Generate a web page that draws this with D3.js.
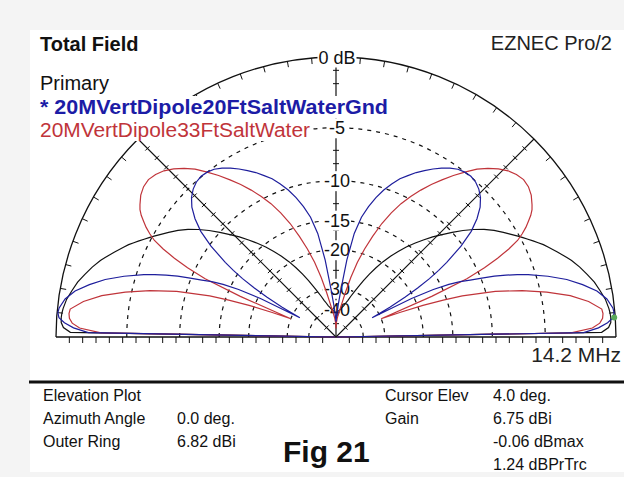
<!DOCTYPE html>
<html lang="en">
<head>
<meta charset="UTF-8">
<title>Total Field - Elevation Plot</title>
<script src="https://d3js.org/d3.v7.min.js"></script>
<style>
    body { margin: 0; padding: 0; background: #ffffff; }
    svg { display: block; font-family: 'Liberation Sans', Arial, sans-serif; }
    .legend { font-size: 20px; }
    .ring-label { font-size: 18px; text-anchor: middle; }
    .info { font-size: 16px; fill: #111; }
</style>
</head>
<body>
<svg width="624" height="477"></svg>
<script>
// elevation angles (deg) of the pattern samples, 0 = right horizon, 180 = left horizon
const elevations = [0,1,2,3,4,5,6,8,10,12,14,16,18,19,20,21,22,23,24,25,26,27,28,29,30,31,32,33,34,36,38,40,42,44,46,48,50,52,54,56,58,60,62,64,66,68,70,72,74,76,78,80,82,84,86,88,90,
    92,94,96,98,100,102,104,106,108,110,112,114,116,118,120,122,124,126,128,130,132,134,136,138,140,142,144,146,147,148,149,150,151,152,153,154,155,156,157,158,159,160,161,162,164,166,168,170,172,174,175,176,177,178,179,180];

// dB relative to outer ring (6.82 dBi)
const primaryDb = [-99,-0.9,-0.45,-0.3,-0.28,-0.3,-0.35,-0.5,-0.75,-1.0,-1.35,-1.7,-2.1,-2.35,-2.6,-2.85,-3.1,-3.35,-3.6,-3.9,-4.2,-4.5,-4.8,-5.1,-5.4,-5.7,-6.0,-6.3,-6.6,-7.3,-8.1,-9.0,-10.0,-11.0,-12.0,-13.1,-14.2,-15.4,-16.7,-18.1,-19.7,-21.5,-23.5,-25.7,-28,-30,-32,-34,-35.5,-37,-38,-39,-40,-40.5,-41,-41.5,-42,
    -41.5,-41,-40.5,-40,-39,-38,-37,-35.5,-34,-32,-30,-28,-25.7,-23.5,-21.5,-19.7,-18.1,-16.7,-15.4,-14.2,-13.1,-12.0,-11.0,-10.0,-9.0,-8.1,-7.3,-6.6,-6.3,-6.0,-5.7,-5.4,-5.1,-4.8,-4.5,-4.2,-3.9,-3.6,-3.35,-3.1,-2.85,-2.6,-2.35,-2.1,-1.7,-1.35,-1.0,-0.75,-0.5,-0.35,-0.3,-0.28,-0.3,-0.45,-0.9,-99];

const salt20Db = [-99,-2.1,-1.1,-0.5,-0.14,-0.05,-0.1,-0.4,-0.95,-1.8,-2.8,-4.1,-5.6,-6.5,-7.5,-8.6,-9.9,-11.2,-12.4,-13.9,-16.3,-20.5,-33,-26,-21.5,-18.5,-16,-14.2,-12.7,-10.2,-8.4,-7.2,-6.3,-5.7,-5.3,-5.05,-4.95,-5.0,-5.15,-5.45,-5.85,-6.3,-6.8,-7.3,-7.9,-8.5,-9.3,-10.2,-11.3,-12.6,-14.2,-16.8,-22,-30,-37,-43,-50,
    -43,-37,-30,-22,-16.8,-14.2,-12.6,-11.3,-10.2,-9.3,-8.5,-7.9,-7.3,-6.8,-6.3,-5.85,-5.45,-5.15,-5.0,-4.95,-5.05,-5.3,-5.7,-6.3,-7.2,-8.4,-10.2,-12.7,-14.2,-16,-18.5,-21.5,-26,-33,-20.5,-16.3,-13.9,-12.4,-11.2,-9.9,-8.6,-7.5,-6.5,-5.6,-4.1,-2.8,-1.8,-0.95,-0.4,-0.1,-0.05,-0.14,-0.5,-1.1,-2.1,-99];

const salt33Db = [-99,-3.0,-1.5,-1.0,-0.8,-0.75,-0.8,-1.6,-2.8,-4.5,-6.5,-9.0,-12.8,-15.5,-19,-24,-30,-17,-11.5,-9.2,-7.6,-6.3,-5.3,-4.7,-4.2,-3.8,-3.4,-3.1,-2.9,-2.55,-2.35,-2.3,-2.45,-2.7,-3.1,-3.6,-4.2,-5.0,-5.8,-6.7,-7.6,-8.6,-9.7,-10.9,-12.4,-14.2,-16.5,-19,-22,-26,-31,-36,-40,-43,-46,-50,-60,
    -50,-46,-43,-40,-36,-31,-26,-22,-19,-16.5,-14.2,-12.4,-10.9,-9.7,-8.6,-7.6,-6.7,-5.8,-5.0,-4.2,-3.6,-3.1,-2.7,-2.45,-2.3,-2.35,-2.55,-2.9,-3.1,-3.4,-3.8,-4.2,-4.7,-5.3,-6.3,-7.6,-9.2,-11.5,-17,-30,-24,-19,-15.5,-12.8,-9.0,-6.5,-4.5,-2.8,-1.6,-0.8,-0.75,-0.8,-1.0,-1.5,-3.0,-99];

const traceNames = ["Primary", "* 20MVertDipole20FtSaltWaterGnd", "20MVertDipole33FtSaltWater"];
const ringDb = [0, -5, -10, -15, -20, -30, -40];
const ringLabels = ["0 dB", "-5", "-10", "-15", "-20", "-30", "-40"];
const cursorElev = 4.0;
const cursorDb = -0.07;

const infoLeft = [["Elevation Plot", ""], ["Azimuth Angle", "0.0 deg."], ["Outer Ring", "6.82 dBi"]];
const infoRight = [["Cursor Elev", "4.0 deg."], ["Gain", "6.75 dBi"], ["", "-0.06 dBmax"], ["", "1.24 dBPrTrc"]];

const svg = d3.select("svg");
const cx = 336, cy = 337, R = 280;

// ARRL log scale: radius goes as (power ratio)^0.253, i.e. 0.89 per 2 dB
const rScale = d3.scalePow().exponent(0.2531).domain([0, 1]).range([0, R]).clamp(true);
const dbToR = db => rScale(Math.pow(10, db / 10));
const angle = d3.scaleLinear().domain([0, 180]).range([Math.PI / 2, -Math.PI / 2]);
const px = (e, r) => r * Math.sin(angle(e));
const py = (e, r) => -r * Math.cos(angle(e));

svg.append("rect").attr("width", 624).attr("height", 477).attr("fill", "#f4f4f4");
svg.append("rect").attr("x", 30).attr("y", 30).attr("width", 594).attr("height", 442).attr("fill", "#ffffff");

const g = svg.append("g").attr("transform", `translate(${cx},${cy})`);
const tickPos = d3.range(1, 21).map(k => k * R / 21);

// vertical dB axis
g.append("line").attr("x1", 0).attr("y1", 0).attr("x2", 0).attr("y2", -R)
    .attr("stroke", "#111").attr("stroke-width", 1.2);
g.selectAll(".vtick").data(tickPos).enter().append("line")
    .attr("x1", -3).attr("x2", 3)
    .attr("y1", d => -d).attr("y2", d => -d)
    .attr("stroke", "#111");

function boxedText(parent, x, y, str, cls, fill, weight, anchor) {
    const grp = parent.append("g");
    const bg = grp.append("rect").attr("fill", "#ffffff");
    const t = grp.append("text")
        .attr("class", cls)
        .attr("x", x).attr("y", y)
        .attr("fill", fill)
        .attr("font-weight", weight || "normal")
        .attr("text-anchor", anchor || "start")
        .text(str);
    return { t: t, bg: bg };
}
function fitBox(b) {
    const bb = b.t.node().getBBox();
    b.bg.attr("x", bb.x - 1).attr("y", bb.y).attr("width", bb.width + 2).attr("height", bb.height);
}

// title and legend
let b = boxedText(svg, 40, 51, "Total Field", "legend", "#111", "bold");
b.t.attr("font-size", 22); fitBox(b);
fitBox(boxedText(svg, 612, 50, "EZNEC Pro/2", "legend", "#222", "normal", "end"));
fitBox(boxedText(svg, 40, 90, traceNames[0], "legend", "#111"));
b = boxedText(svg, 40, 114, traceNames[1], "legend", "#1c1ca6", "bold");
b.t.attr("font-size", 21).attr("textLength", 348).attr("lengthAdjust", "spacingAndGlyphs"); fitBox(b);
b = boxedText(svg, 40, 137, traceNames[2], "legend", "#c0343a");
b.t.attr("font-size", 21).attr("textLength", 270).attr("lengthAdjust", "spacingAndGlyphs"); fitBox(b);

// dashed dB rings
g.selectAll(".ring").data(ringDb.slice(1)).enter().append("path")
    .attr("d", d => { const p = d3.path(); p.arc(0, 0, dbToR(d), Math.PI, 2 * Math.PI); return p.toString(); })
    .attr("fill", "none").attr("stroke", "#111").attr("stroke-width", 1.2)
    .attr("stroke-dasharray", "4,5");

// outer ring
const outer = d3.path();
outer.arc(0, 0, R, Math.PI, 2 * Math.PI);
g.append("path").attr("d", outer.toString())
    .attr("fill", "none").attr("stroke", "#111").attr("stroke-width", 1.3);
g.selectAll(".otick").data(d3.range(5, 180, 5)).enter().append("line")
    .attr("x1", d => px(d, R)).attr("y1", d => py(d, R))
    .attr("x2", d => px(d, R - 6)).attr("y2", d => py(d, R - 6))
    .attr("stroke", "#111");

// 45 deg axes
[45, 135].forEach(e => {
    g.append("line").attr("x1", 0).attr("y1", 0)
        .attr("x2", px(e, R)).attr("y2", py(e, R))
        .attr("stroke", "#111").attr("stroke-width", 1.1);
    g.selectAll(".dtick" + e).data(tickPos).enter().append("line")
        .attr("x1", d => px(e, d) + 3 * Math.cos(angle(e)))
        .attr("y1", d => py(e, d) + 3 * Math.sin(angle(e)))
        .attr("x2", d => px(e, d) - 3 * Math.cos(angle(e)))
        .attr("y2", d => py(e, d) - 3 * Math.sin(angle(e)))
        .attr("stroke", "#111");
});

// baseline
g.append("line").attr("x1", -R).attr("y1", 0).attr("x2", R).attr("y2", 0)
    .attr("stroke", "#111").attr("stroke-width", 1.6);
g.selectAll(".btick").data(tickPos.concat(tickPos.map(d => -d))).enter().append("line")
    .attr("x1", d => d).attr("x2", d => d)
    .attr("y1", 0).attr("y2", 6)
    .attr("stroke", "#111");

// ring labels on the vertical axis
ringDb.forEach((d, i) => {
    fitBox(boxedText(g, 1, -dbToR(d) + 6.5, ringLabels[i], "ring-label", "#111", "normal", "middle"));
});

// pattern traces
const line = d3.lineRadial()
    .angle((d, i) => angle(elevations[i]))
    .radius(d => dbToR(d));

const traces = [
    { db: primaryDb, color: "#111111" },
    { db: salt33Db, color: "#c0343a" },
    { db: salt20Db, color: "#1e1e9c" }
];

g.selectAll(".trace").data(traces).enter().append("path")
    .attr("d", d => line(d.db))
    .attr("fill", "none")
    .attr("stroke", d => d.color)
    .attr("stroke-width", 1.2);

// cursor marker
g.append("circle")
    .attr("cx", px(cursorElev, dbToR(cursorDb)))
    .attr("cy", py(cursorElev, dbToR(cursorDb)))
    .attr("r", 3)
    .attr("fill", "#5aa85a");

svg.append("text").attr("x", 621).attr("y", 362)
    .attr("text-anchor", "end").attr("font-size", 21).attr("fill", "#222")
    .text("14.2 MHz");

// info panel
svg.append("line").attr("x1", 29).attr("x2", 624).attr("y1", 382).attr("y2", 382)
    .attr("stroke", "#111").attr("stroke-width", 3);

infoLeft.forEach((row, i) => {
    svg.append("text").attr("class", "info").attr("x", 43).attr("y", 401 + 23 * i).text(row[0]);
    svg.append("text").attr("class", "info").attr("x", 177).attr("y", 401 + 23 * i).text(row[1]);
});
infoRight.forEach((row, i) => {
    svg.append("text").attr("class", "info").attr("x", 385).attr("y", 401 + 23 * i).text(row[0]);
    svg.append("text").attr("class", "info").attr("x", 493).attr("y", 401 + 23 * i).text(row[1]);
});

svg.append("text").attr("x", 283).attr("y", 462)
    .attr("font-size", 30).attr("font-weight", "bold").attr("fill", "#111")
    .text("Fig 21");
</script>
</body>
</html>
